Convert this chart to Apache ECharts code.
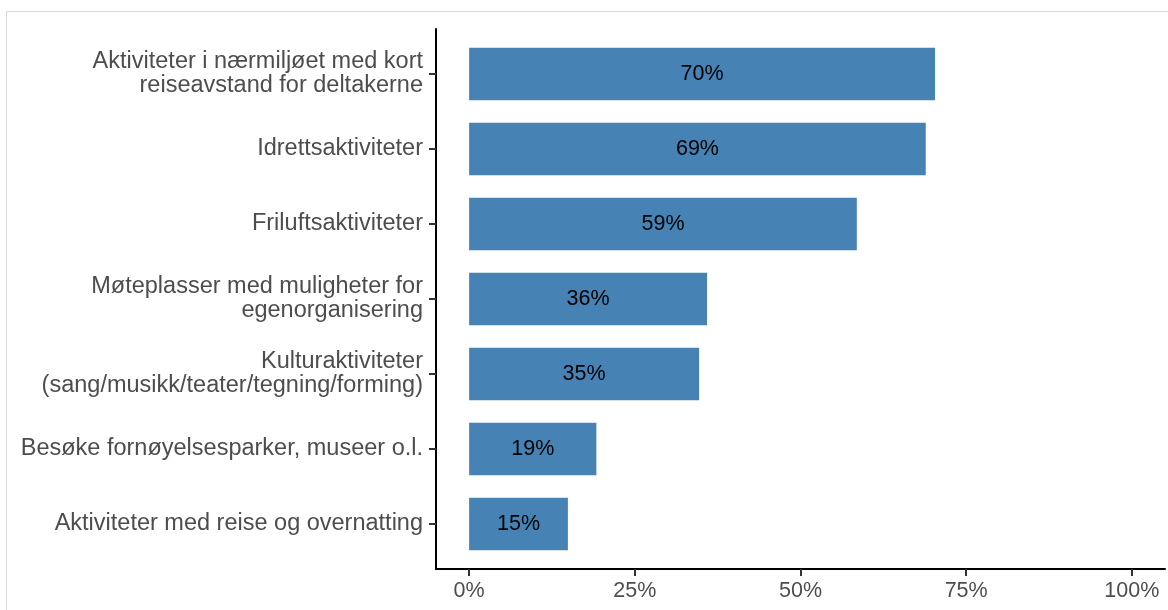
<!DOCTYPE html>
<html><head><meta charset="utf-8">
<script src="https://cdn.jsdelivr.net/npm/echarts@6/dist/echarts.min.js"></script>
<style>
html,body{margin:0;padding:0;background:#fff;overflow:hidden;}
#frame{position:absolute;left:6px;top:11px;width:1200px;height:700px;border:1px solid #d9d9d9;box-sizing:border-box;}
#c{position:absolute;left:0;top:0;width:1168px;height:610px;}
</style></head>
<body><div id="frame"></div><div id="c"></div>
<script>
const categories = [
  "Aktiviteter i nærmiljøet med kort\nreiseavstand for deltakerne",
  "Idrettsaktiviteter",
  "Friluftsaktiviteter",
  "Møteplasser med muligheter for\negenorganisering",
  "Kulturaktiviteter\n(sang/musikk/teater/tegning/forming)",
  "Besøke fornøyelsesparker, museer o.l.",
  "Aktiviteter med reise og overnatting"
];
const values = [70.3, 68.9, 58.5, 35.9, 34.7, 19.2, 14.9];
const labels = ["70%", "69%", "59%", "36%", "35%", "19%", "15%"];
const xTicks = [0, 25, 50, 75, 100];
const xTickLabels = ["0%", "25%", "50%", "75%", "100%"];

const FONT = 'Liberation Sans, Arial, sans-serif';
const chart = echarts.init(document.getElementById('c'), null, {renderer: 'canvas'});
const data = values.map((v, i) => [v, i, labels[i]]);
chart.setOption({
  animation: false,
  backgroundColor: 'transparent',
  grid: {left: 436, right: 3, top: 29, bottom: 41, containLabel: false},
  xAxis: {
    type: 'value', min: -5, max: 105,
    axisLine: {show: true, onZero: false, lineStyle: {color: '#000', width: 2}},
    axisTick: {show: true, length: 7, lineStyle: {color: '#333', width: 2}, customValues: xTicks},
    axisLabel: {customValues: xTicks, color: '#4D4D4D', fontSize: 21.5, fontFamily: FONT, margin: 11,
      formatter: v => xTickLabels[xTicks.indexOf(v)] ?? ''},
    splitLine: {show: false}
  },
  yAxis: {
    type: 'value', min: -0.6, max: 6.6, inverse: true,
    axisLine: {show: true, onZero: false, lineStyle: {color: '#000', width: 2}},
    axisTick: {show: true, length: 7, lineStyle: {color: '#333', width: 2}, customValues: [0,1,2,3,4,5,6]},
    axisLabel: {customValues: [0,1,2,3,4,5,6], color: '#4D4D4D', fontSize: 23.5, lineHeight: 24,
      fontFamily: FONT, margin: 13, align: 'right',
      formatter: v => categories[Math.round(v)] ?? ''},
    splitLine: {show: false}
  },
  series: [{
    type: 'custom',
    data: data,
    encode: {x: 0, y: 1},
    renderItem: function (params, api) {
      const v = api.value(0), i = api.value(1);
      const p0 = api.coord([0, i]);
      const p1 = api.coord([v, i]);
      const h = api.size([0, 0.7])[1];
      return {
        type: 'group',
        children: [{
          type: 'rect',
          shape: {x: p0[0], y: p0[1] - h / 2, width: p1[0] - p0[0], height: h},
          style: {fill: '#4682B4'}
        }, {
          type: 'text',
          x: (p0[0] + p1[0]) / 2, y: p0[1],
          style: {text: labels[i], fill: '#000', fontSize: 21.5, fontFamily: FONT,
            align: 'center', verticalAlign: 'middle'}
        }]
      };
    }
  }]
});
</script></body></html>
